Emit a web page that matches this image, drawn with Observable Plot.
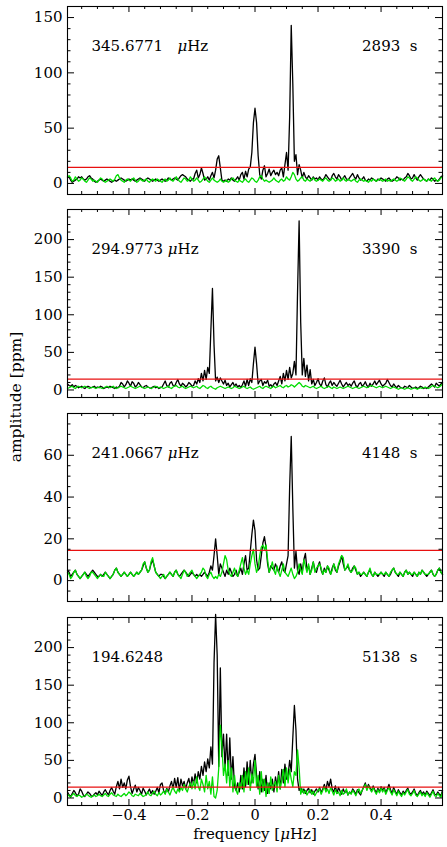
<!DOCTYPE html>
<html><head><meta charset="utf-8">
<script src="https://cdn.jsdelivr.net/npm/d3@7"></script>
<script src="https://cdn.jsdelivr.net/npm/@observablehq/plot@0.6"></script>
<style>
body{margin:0;background:#fff;}
#wrap{position:relative;width:447px;height:847px;font-family:"DejaVu Serif",serif;color:#000;overflow:hidden;}
.panel{position:absolute;left:0;}
#ylab{position:absolute;left:16px;top:397px;transform:translate(-50%,-50%) rotate(-90deg);font-size:15.5px;white-space:nowrap;}
</style></head><body><div id="wrap"><div id="ylab">amplitude [ppm]</div></div>
<script>
// frequency sampling of the periodograms (μHz)
const freqStart = -0.595, freqStep = 0.005, nFreq = 239;
const threshold = 14.5;
const xMajor = [-0.4, -0.2, 0, 0.2, 0.4];
const xTickLabels = ["−0.4", "−0.2", "0", "0.2", "0.4"];
const xMinor = [-0.55,-0.5,-0.45,-0.35,-0.3,-0.25,-0.15,-0.1,-0.05,0.05,0.1,0.15,0.25,0.3,0.35,0.45,0.5,0.55];
const panelFreqLabels = ["345.6771\u00a0\u00a0\u00a0μHz", "294.9773\u00a0μHz", "241.0667\u00a0μHz", "194.6248"];
const panelPeriodLabels = ["2893\u00a0\u00a0s", "3390\u00a0\u00a0s", "4148\u00a0\u00a0s", "5138\u00a0\u00a0s"];
const yDomains = [[-10,160],[-10,240],[-10,80],[-10,240]];
const yMajorTicks = [[0,50,100,150],[0,50,100,150,200],[0,20,40,60],[0,50,100,150,200]];
const yMinorStep = [10,10,5,10];

const black1 = [
5,6,3,1,2,3,4,6,5,6,4,3,4,6,7,5,4,2,1,2,
3,4,3,2,3,4,3,2,1,2,3,2,3,4,5,4,3,2,3,4,
3,4,3,2,3,4,5,4,3,2,4,5,4,3,2,3,4,3,2,3,
4,3,2,3,5,4,3,4,5,4,3,5,7,8,7,6,4,3,2,4,
4,9,12,5,8,14,9,3,4,6,3,7,10,5,12,22,25,14,3,2,
3,2,4,3,5,3,2,4,6,3,8,10,4,11,6,13,15,28,55,68,
55,25,8,4,12,16,6,9,13,7,10,12,8,10,7,12,14,6,17,28,
12,60,143,90,20,26,8,17,12,5,10,6,4,7,5,3,6,4,5,3,
6,4,3,5,8,6,4,3,7,9,6,4,8,6,3,5,7,4,3,5,
7,9,6,4,8,5,3,4,6,3,2,4,3,5,4,3,2,4,3,5,
4,3,2,4,5,3,2,3,4,6,5,3,4,3,5,6,9,7,4,5,
8,5,3,6,8,6,4,3,2,4,3,5,4,2,3,2,4,6,7];
const green1 = [
6,7,5,2,3,6,4,2,3,5,4,2,1,3,5,4,2,3,2,1,
3,5,4,2,1,2,3,4,3,2,4,7,8,5,3,2,1,3,4,3,
2,4,5,3,1,2,4,3,2,3,4,2,1,3,4,3,2,4,3,2,
1,3,4,2,3,5,3,2,4,6,4,2,1,3,5,4,2,3,6,4,
2,3,5,3,1,2,4,6,4,2,1,3,5,3,2,1,2,4,2,1,
2,3,1,2,4,5,3,2,1,3,2,1,3,4,2,1,3,5,4,2,
1,3,6,7,4,2,3,2,1,2,3,5,3,2,1,3,4,2,3,6,
4,3,6,10,8,4,2,3,5,6,3,2,4,3,2,4,5,3,2,3,
4,3,2,4,5,3,2,3,5,4,2,3,4,2,3,5,3,2,4,3,
2,3,4,2,1,3,4,3,2,3,2,1,3,2,4,3,2,3,4,3,
2,3,4,2,3,2,3,4,3,2,3,5,4,3,2,4,6,5,3,2,
4,6,5,3,2,3,4,3,2,4,3,2,4,5,3,2,3,5,6];

const black2 = [
8,6,5,7,4,6,5,3,4,5,3,2,4,5,4,3,4,5,3,4,
3,5,4,2,3,4,3,5,4,3,2,4,3,5,10,8,4,7,12,9,
5,11,9,4,6,10,7,4,3,5,6,4,3,2,4,5,3,4,2,3,
4,8,12,6,4,9,11,6,5,10,14,8,5,9,7,4,6,10,8,5,
6,12,8,15,10,22,12,26,14,30,22,80,135,60,12,17,10,16,12,8,
13,6,9,4,7,10,5,8,4,6,3,7,12,5,14,6,15,10,35,57,
35,8,12,14,6,11,9,13,5,7,4,8,10,6,12,18,8,22,12,26,
14,30,16,22,38,20,130,225,90,20,42,18,33,12,27,8,14,6,10,15,
8,5,12,16,7,4,9,12,6,10,7,5,9,13,8,4,7,10,6,8,
5,9,12,6,4,8,10,5,7,11,6,4,9,5,8,12,7,10,13,8,
5,7,9,14,10,6,4,8,5,3,6,4,3,2,5,4,3,6,4,2,
3,4,2,3,5,4,2,3,2,4,6,8,6,4,9,7,5,8,10];
const green2 = [
2,3,4,5,3,2,4,5,4,3,4,5,4,3,2,3,4,3,2,3,
4,3,2,3,4,5,4,3,4,5,3,2,3,4,5,4,3,2,3,4,
5,4,3,2,3,4,5,4,3,2,3,4,3,2,3,4,5,4,3,4,
3,2,3,4,5,3,2,4,5,6,4,3,4,5,3,2,3,4,5,4,
3,4,5,3,2,4,6,5,3,2,4,5,3,2,1,3,4,5,4,3,
2,3,4,3,2,3,5,4,3,2,3,4,5,3,2,3,4,2,1,2,
3,4,5,3,2,4,5,4,3,2,4,5,3,4,5,6,4,3,5,6,
4,5,7,6,4,6,8,10,8,5,4,6,5,4,3,4,5,3,2,3,
4,5,3,2,3,4,5,3,2,4,3,2,3,4,3,2,3,4,5,4,
3,2,3,4,3,2,3,4,5,4,3,4,5,6,5,4,3,4,5,4,
3,4,5,4,3,2,3,4,3,2,1,2,3,2,1,2,3,2,1,2,
3,2,1,2,3,2,3,4,3,2,3,5,6,5,4,3,4,6,8];

const black3 = [
5,4,2,3,4,5,3,2,1,2,3,4,3,2,3,4,5,4,3,2,
2,3,2,3,4,3,2,1,2,3,5,6,4,3,2,3,4,3,2,3,
4,3,2,3,4,3,4,5,7,9,6,4,5,8,10,7,4,3,2,3,
3,2,1,2,3,4,3,2,4,5,3,2,3,4,5,4,3,2,3,4,
3,2,3,2,3,2,3,4,3,2,4,7,5,12,20,12,3,8,6,4,
2,5,3,6,4,2,3,5,2,4,6,3,8,12,5,6,14,22,29,24,
10,5,6,12,18,21,16,8,4,7,6,5,8,6,4,7,9,5,4,8,
12,45,69,35,6,14,5,3,8,4,10,13,5,7,3,6,9,5,4,7,
9,5,3,6,4,7,5,3,6,8,5,4,7,9,12,8,5,6,7,5,
4,6,7,5,3,4,2,3,4,3,2,4,5,3,2,4,3,2,3,4,
3,2,4,3,2,3,5,6,4,3,2,4,3,2,4,5,3,4,3,2,
4,3,2,4,3,5,4,3,2,3,4,5,3,2,3,5,6,4,3];
const green3 = [
4,3,1,2,4,5,3,2,1,2,3,4,2,1,2,4,4,3,2,1,
2,3,2,2,4,3,2,1,2,3,5,6,4,3,2,3,4,3,2,3,
4,3,2,3,4,3,4,5,8,9,6,4,5,9,11,7,4,3,2,1,
2,3,1,2,3,4,3,2,4,5,3,2,1,3,5,4,2,3,4,5,
3,2,1,2,3,4,6,5,2,1,3,4,2,1,2,1,3,2,4,8,
12,10,5,3,2,4,6,3,2,5,8,11,6,3,5,3,8,12,15,8,
4,6,12,16,17,15,17,10,4,6,9,5,3,7,4,2,5,8,4,3,
2,4,6,3,1,2,4,8,5,3,10,7,4,8,3,5,9,4,6,7,
8,6,3,5,4,7,6,3,5,8,6,4,8,10,12,11,5,6,8,5,
4,5,7,6,3,4,3,3,4,3,2,4,6,3,2,4,3,3,3,4,
3,3,4,3,2,4,5,6,4,3,3,4,3,2,4,5,3,4,3,3,
4,3,2,4,3,5,4,3,3,3,4,5,3,2,3,5,6,4,3];

const black4 = [
8,4,2,6,10,7,3,5,12,9,4,2,5,8,6,3,2,5,7,4,
9,6,3,8,11,7,4,10,14,9,5,15,22,12,25,14,20,12,24,29,
15,6,12,17,8,14,10,5,13,9,4,8,12,6,10,5,9,14,7,18,
20,10,6,13,8,16,22,12,26,14,27,10,25,16,22,12,20,26,14,28,
18,32,20,35,25,42,30,48,35,52,40,68,45,180,244,190,42,173,55,85,
40,85,30,80,25,55,15,10,20,8,30,12,40,15,48,18,50,20,45,58,
30,12,35,8,25,10,30,6,20,12,25,8,28,15,35,12,38,20,45,25,
30,50,35,80,123,90,25,10,14,8,12,6,10,13,7,11,5,9,12,8,
14,7,12,18,10,22,15,25,12,8,16,6,14,9,5,12,7,10,4,8,
6,12,9,5,11,7,4,10,15,20,12,18,14,9,16,11,7,13,8,15,
10,14,7,12,18,11,6,14,9,5,11,7,4,9,6,10,13,7,5,8,
12,6,3,7,10,5,8,4,9,6,3,7,11,5,4,8,5,3,10];
const green4 = [
5,3,1,4,6,3,2,4,3,1,2,3,5,4,2,1,3,4,2,3,
5,3,2,4,6,3,2,5,7,4,3,2,5,3,2,4,6,3,5,8,
6,3,2,5,4,3,6,4,2,3,5,8,4,3,6,9,5,3,7,4,
6,9,5,12,8,4,10,15,9,6,12,8,14,10,18,12,8,15,20,12,
22,12,28,15,10,25,18,8,30,12,22,5,28,2,0,10,40,97,70,30,
45,20,50,15,40,8,30,10,5,20,12,30,8,35,18,40,10,32,20,50,
15,30,5,35,8,25,2,20,6,28,10,18,22,8,30,12,25,38,15,40,
20,38,25,15,35,30,64,40,5,12,6,10,4,8,11,5,9,3,7,10,
12,5,10,15,8,12,6,14,9,4,11,6,8,3,10,5,7,12,4,8,
5,10,7,3,9,12,6,10,14,18,10,16,12,8,14,9,5,11,7,13,
8,12,5,10,14,8,4,11,7,3,9,5,2,7,4,8,11,5,3,6,
10,4,2,5,8,3,6,2,7,4,1,5,9,3,2,6,3,1,8];

const blackSeries = [black1, black2, black3, black4];
const greenSeries = [green1, green2, green3, green4];
const freq = d3.range(nFreq).map(i => +(freqStart + freqStep * i).toFixed(3));

const RED = "#e81010", GREEN = "#00dd00";
const panelTops = [2, 205, 409, 613];
const wrap = document.getElementById("wrap");

function makePanel(k) {
  const frameH = 188, mt = 4, mb = k === 3 ? 43 : 4;
  const frameW = 447 - 67 - 5;
  const [lo, hi] = yDomains[k];
  const minorY = d3.range(lo, hi + 1e-9, yMinorStep[k]).filter(v => !yMajorTicks[k].includes(v) && v > lo && v < hi);
  const rows = freq.map((f, i) => ({f, b: blackSeries[k][i], g: greenSeries[k][i]}));
  const marks = [
    Plot.line(rows, {x: "f", y: "b", stroke: "#000", strokeWidth: 1.3}),
    Plot.line(rows, {x: "f", y: "g", stroke: GREEN, strokeWidth: 1.3}),
    Plot.ruleY([threshold], {stroke: RED, strokeWidth: 1.2}),
    Plot.ruleX(xMajor, {insetTop: frameH - 6}),
    Plot.ruleX(xMajor, {insetBottom: frameH - 6}),
    Plot.ruleX(xMinor, {insetTop: frameH - 3}),
    Plot.ruleX(xMinor, {insetBottom: frameH - 3}),
    Plot.ruleY(yMajorTicks[k], {insetRight: frameW - 7}),
    Plot.ruleY(yMajorTicks[k], {insetLeft: frameW - 7}),
    Plot.ruleY(minorY, {insetRight: frameW - 3.5}),
    Plot.ruleY(minorY, {insetLeft: frameW - 3.5}),
    Plot.frame({stroke: "#000", strokeWidth: 1.1}),
    Plot.axisY(yMajorTicks[k], {tickSize: 0, tickPadding: 5, fontSize: 15, label: null}),
    Plot.text([panelFreqLabels[k]], {text: d => d, frameAnchor: "top-left", dx: 24, dy: 34, textAnchor: "start", fontSize: 15}),
    Plot.text([panelPeriodLabels[k]], {text: d => d, frameAnchor: "top-right", dx: -25, dy: 34, textAnchor: "end", fontSize: 15})
  ];
  if (k === 3) {
    marks.push(Plot.axisX(xMajor, {tickSize: 0, tickPadding: 4, fontSize: 14.5, label: null,
      tickFormat: d => xTickLabels[xMajor.indexOf(d)]}));
    marks.push(Plot.text(["frequency [μHz]"], {text: d => d, frameAnchor: "bottom", dy: 33, fontSize: 15}));
  }
  const svg = Plot.plot({
    width: 447, height: mt + frameH + mb,
    marginLeft: 67, marginRight: 5, marginTop: mt, marginBottom: mb,
    x: {domain: [-0.595, 0.595], ...(k === 3 ? {} : {axis: null})},
    y: {domain: [lo, hi]},
    style: {fontFamily: "DejaVu Serif, serif", fontSize: "15px", background: "transparent", overflow: "visible", color: "#000"},
    marks
  });
  svg.classList.add("panel");
  svg.style.top = panelTops[k] + "px";
  svg.style.position = "absolute";
  wrap.appendChild(svg);
}
[0, 1, 2, 3].forEach(makePanel);

// italic mu, as in the original typesetting
const NS = "http://www.w3.org/2000/svg";
document.querySelectorAll("#wrap text, #wrap tspan").forEach(t => {
  if (t.childElementCount === 0 && t.textContent.includes("μ")) {
    const parts = t.textContent.split("μ");
    t.textContent = "";
    parts.forEach((p, i) => {
      if (i > 0) { const s = document.createElementNS(NS, "tspan"); s.setAttribute("font-style", "italic"); s.textContent = "μ"; t.appendChild(s); }
      if (p) t.appendChild(document.createTextNode(p));
    });
  }
});
</script></body></html>
